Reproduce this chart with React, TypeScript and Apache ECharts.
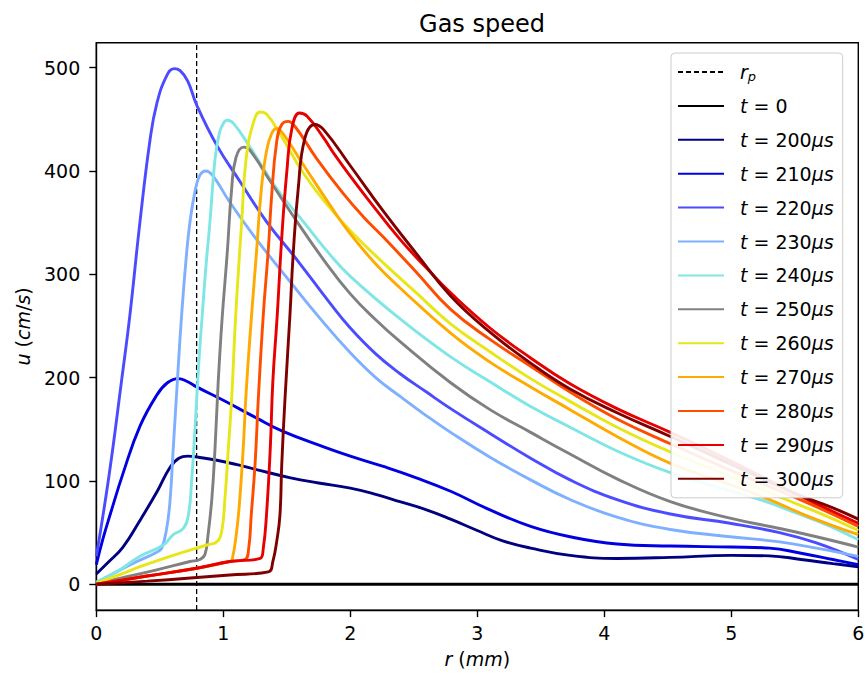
import React, { useEffect, useRef } from 'react';
import * as echarts from 'echarts';

const FONT = "'DejaVu Sans', Verdana, sans-serif";

const X_TICKS = [0, 1, 2, 3, 4, 5, 6];
const Y_TICKS = [0, 100, 200, 300, 400, 500];
const X_MIN = 0;
const X_MAX = 6;
const Y_MIN = -25;
const Y_MAX = 524;
const R_P = 0.79;

const t0 = [[0, 0], [6, 0]];
const t200 = [[0,10],[0.1,22],[0.21,36],[0.34,61],[0.48,90],[0.58,113],[0.65,122],[0.72,124],[0.8,123],[0.95,120],[1.1,116],[1.26,111],[1.53,103],[1.75,98],[2.0,93],[2.2,87],[2.39,80],[2.6,72],[2.79,63],[3.0,52],[3.2,42],[3.42,35],[3.73,28],[4.1,25],[4.52,26],[5.0,28],[5.3,27.5],[5.55,24],[5.8,20],[6.0,17]];
const t210 = [[0,19],[0.05,43],[0.108,67],[0.215,109],[0.344,153],[0.476,183],[0.56,195],[0.646,199],[0.72,196],[0.79,191],[1.0,178],[1.26,161],[1.47,148],[1.79,133],[2.0,124],[2.26,114],[2.52,103],[2.79,90],[3.1,72],[3.42,56],[3.73,46],[4.1,39],[4.52,37],[5.0,36],[5.3,35],[5.55,30],[5.8,24],[6.0,19]];
const t220 = [[0,27],[0.1,105],[0.2,198],[0.265,261],[0.344,351],[0.423,430],[0.476,465],[0.554,492],[0.612,499],[0.66,497],[0.72,487],[0.79,464],[0.948,425],[1.13,390],[1.34,351],[1.58,314],[1.84,272],[2.0,248],[2.2,223],[2.39,204],[2.6,186],[2.79,170],[3.1,146],[3.42,122],[3.73,101],[4.1,82],[4.52,68],[4.99,59],[5.38,50],[5.67,40],[6.0,24]];
const t230 = [[0,2],[0.16,12],[0.32,22],[0.476,31],[0.515,35],[0.554,54],[0.58,80],[0.606,132],[0.638,196],[0.672,261],[0.71,319],[0.738,351],[0.777,380],[0.816,396],[0.864,400],[0.92,395],[1.05,370],[1.26,334],[1.525,293],[1.75,259],[2.0,224],[2.2,200],[2.39,182],[2.6,163],[2.79,147],[3.1,123],[3.42,101],[3.73,82],[4.1,65],[4.52,53],[4.99,46],[5.38,41],[5.67,35],[6.0,27]];
const t240 = [[0,2],[0.16,12],[0.344,27],[0.528,38],[0.606,48],[0.685,54],[0.725,67],[0.75,99],[0.777,150],[0.805,210],[0.835,262],[0.865,310],[0.895,351],[0.935,412],[0.97,437],[1.0,446],[1.03,449],[1.08,446],[1.21,423],[1.42,383],[1.63,351],[1.84,319],[2.0,298],[2.39,257],[2.79,220],[3.1,196],[3.42,172],[3.73,152],[4.1,129],[4.52,108],[5.0,90],[5.25,81],[5.51,69],[5.78,56],[6.0,43]];
const t250 = [[0,1],[0.21,6.5],[0.476,14],[0.738,22],[0.816,24],[0.856,29],[0.88,48],[0.91,83],[0.935,132],[0.96,196],[0.99,256],[1.03,319],[1.066,383],[1.1,413],[1.16,423],[1.21,420],[1.37,390],[1.58,351],[1.79,314],[2.0,281],[2.2,256],[2.39,235],[2.79,195],[3.1,169],[3.42,147],[3.73,126],[4.1,102],[4.52,80],[4.99,64],[5.38,54],[5.67,46],[6.0,36]];
const t260 = [[0,1],[0.2,10],[0.344,17],[0.606,28],[0.87,38],[0.948,41],[0.987,51],[1.013,83],[1.04,132],[1.066,180],[1.098,261],[1.145,351],[1.18,412],[1.24,448],[1.29,457],[1.34,455],[1.45,435],[1.63,398],[1.8,370],[2.0,342],[2.26,311],[2.52,282],[2.79,252],[3.1,225],[3.42,199],[3.73,177],[4.1,152],[4.52,128],[5.0,104],[5.43,82],[5.75,66],[6.0,52]];
const t270 = [[0,0],[0.4,8],[0.79,15.5],[1.05,22],[1.07,24],[1.105,51],[1.13,83],[1.157,132],[1.18,186],[1.223,261],[1.26,319],[1.3,383],[1.34,419],[1.38,436],[1.42,441],[1.47,436],[1.63,406],[1.84,367],[2.0,339],[2.2,310],[2.39,287],[2.79,243],[3.1,215],[3.42,191],[3.73,169],[4.1,143],[4.52,117],[5.0,96],[5.3,82],[5.6,66],[6.0,48]];
const t280 = [[0,0],[0.4,8],[0.79,15.5],[1.05,22],[1.17,24],[1.2,35],[1.22,67],[1.25,116],[1.276,180],[1.315,261],[1.355,325],[1.38,375],[1.42,428],[1.46,445],[1.51,448],[1.565,443],[1.735,412],[1.945,378],[2.1,356],[2.26,336],[2.52,302],[2.79,266],[3.1,237],[3.42,211],[3.73,186],[4.1,160],[4.52,136],[5.0,110],[5.56,81],[6.0,56]];
const t290 = [[0,0],[0.4,8],[0.79,15.5],[1.05,22],[1.29,25],[1.315,35],[1.34,67],[1.37,132],[1.39,196],[1.425,261],[1.46,335],[1.5,399],[1.54,441],[1.6,456],[1.66,453],[1.79,432],[1.87,417],[2.0,395],[2.13,374],[2.39,334],[2.6,306],[2.79,282],[3.1,248],[3.42,219],[3.73,194],[4.1,170],[4.52,147],[5.0,119],[5.5,88],[6.0,59]];
const t300 = [[0,0],[0.4,3],[0.74,6],[1.05,9],[1.355,12],[1.39,22],[1.42,41],[1.446,67],[1.46,115],[1.486,180],[1.525,261],[1.55,319],[1.59,383],[1.643,432],[1.72,445],[1.79,440],[2.0,405],[2.26,361],[2.52,320],[2.79,279],[3.1,244],[3.42,214],[3.73,189],[4.1,166],[4.52,143],[5.0,116],[5.5,88],[5.8,74],[6.0,63]];

const RP_LINE = [[R_P, Y_MIN], [R_P, Y_MAX]];

const SERIES_NAMES = ['t = 0', 't = 200μs', 't = 210μs', 't = 220μs', 't = 230μs', 't = 240μs', 't = 250μs', 't = 260μs', 't = 270μs', 't = 280μs', 't = 290μs', 't = 300μs'];
const SERIES_DATA = [t0, t200, t210, t220, t230, t240, t250, t260, t270, t280, t290, t300];
const SERIES_COLORS = ['#000000', '#000080', '#0000e0', '#4b4bff', '#7fb0ff', '#80e5e5', '#808080', '#e6e619', '#ffaa00', '#ff4d00', '#e60000', '#800000'];

function legendFormatter(name: string): string {
  if (name === 'r_p') return '{i|r}{sub|p}';
  const m = name.match(/^t = (\d+)(μs)?$/);
  if (!m) return name;
  return '{i|t} = ' + m[1] + (m[2] ? '{i|μs}' : '');
}

export default function App() {
  const ref = useRef<HTMLDivElement>(null);
  useEffect(() => {
    if (!ref.current) return;
    const chart = echarts.init(ref.current, undefined, { renderer: 'svg' });
    const series: any[] = [
      {
        name: 'r_p',
        type: 'line',
        data: RP_LINE,
        symbol: 'none',
        lineStyle: { color: '#000', width: 1.3, type: [5, 3] },
        itemStyle: { color: '#000' },
        z: 2,
      },
      ...SERIES_NAMES.map((n, i) => ({
        name: n,
        type: 'line',
        data: SERIES_DATA[i],
        symbol: 'none',
        smooth: 0.45,
        lineStyle: { color: SERIES_COLORS[i], width: 2.9 },
        itemStyle: { color: SERIES_COLORS[i] },
        z: 2,
      })),
    ];
    chart.setOption({
      animation: false,
      backgroundColor: '#ffffff',
      title: {
        text: 'Gas speed',
        left: 477,
        top: 7,
        textAlign: 'center',
        textStyle: { fontFamily: FONT, fontSize: 24, fontWeight: 'normal', color: '#000' },
      },
      grid: {
        left: 96.3,
        right: 7.7,
        top: 42.8,
        bottom: 68.9,
        show: true,
        borderColor: '#000',
        borderWidth: 1.4,
        containLabel: false,
        outerBoundsMode: 'none',
      },
      xAxis: {
        type: 'value',
        min: X_MIN,
        max: X_MAX,
        name: '{i|r} ({i|mm})',
        nameLocation: 'middle',
        nameGap: 39,
        nameTextStyle: {
          fontFamily: FONT, fontSize: 19, color: '#000',
          rich: { i: { fontFamily: FONT, fontSize: 19, fontStyle: 'italic', color: '#000' } },
        },
        axisLine: { show: true, onZero: false, lineStyle: { color: '#000', width: 1.4 } },
        axisTick: { show: true, length: 7, lineStyle: { color: '#000', width: 1.4 }, customValues: X_TICKS },
        axisLabel: { show: true, margin: 13, fontFamily: FONT, fontSize: 19, color: '#000', customValues: X_TICKS },
        splitLine: { show: false },
      },
      yAxis: {
        type: 'value',
        min: Y_MIN,
        max: Y_MAX,
        name: '{i|u} ({i|cm}/{i|s})',
        nameLocation: 'middle',
        nameGap: 64,
        nameRotate: 90,
        nameTextStyle: {
          fontFamily: FONT, fontSize: 19, color: '#000',
          rich: { i: { fontFamily: FONT, fontSize: 19, fontStyle: 'italic', color: '#000' } },
        },
        axisLine: { show: true, onZero: false, lineStyle: { color: '#000', width: 1.4 } },
        axisTick: { show: true, length: 7, lineStyle: { color: '#000', width: 1.4 }, customValues: Y_TICKS },
        axisLabel: { show: true, margin: 16, fontFamily: FONT, fontSize: 19, color: '#000', customValues: Y_TICKS },
        splitLine: { show: false },
      },
      legend: {
        orient: 'vertical',
        left: 671,
        top: 53,
        z: 50,
        itemWidth: 46,
        itemHeight: 14,
        itemGap: 11.9,
        padding: [8, 9, 8, 6],
        backgroundColor: 'rgba(255,255,255,0.9)',
        borderColor: '#cccccc',
        borderWidth: 1,
        borderRadius: 4,
        selectedMode: false,
        itemStyle: { opacity: 0 },
        data: ['r_p', ...SERIES_NAMES],
        formatter: legendFormatter,
        textStyle: {
          fontFamily: FONT,
          fontSize: 19,
          color: '#000',
          lineHeight: 22,
          padding: [0, 0, 0, 11],
          rich: {
            i: { fontFamily: FONT, fontSize: 19, fontStyle: 'italic', color: '#000', lineHeight: 22 },
            sub: { fontFamily: FONT, fontSize: 13, fontStyle: 'italic', color: '#000', verticalAlign: 'bottom', lineHeight: 15 },
          },
        },
      },
      series,
    });
    return () => chart.dispose();
  }, []);
  return (
    <div
      ref={ref}
      style={{ position: 'fixed', left: 0, top: 0, width: 866, height: 679, background: '#fff' }}
    />
  );
}
